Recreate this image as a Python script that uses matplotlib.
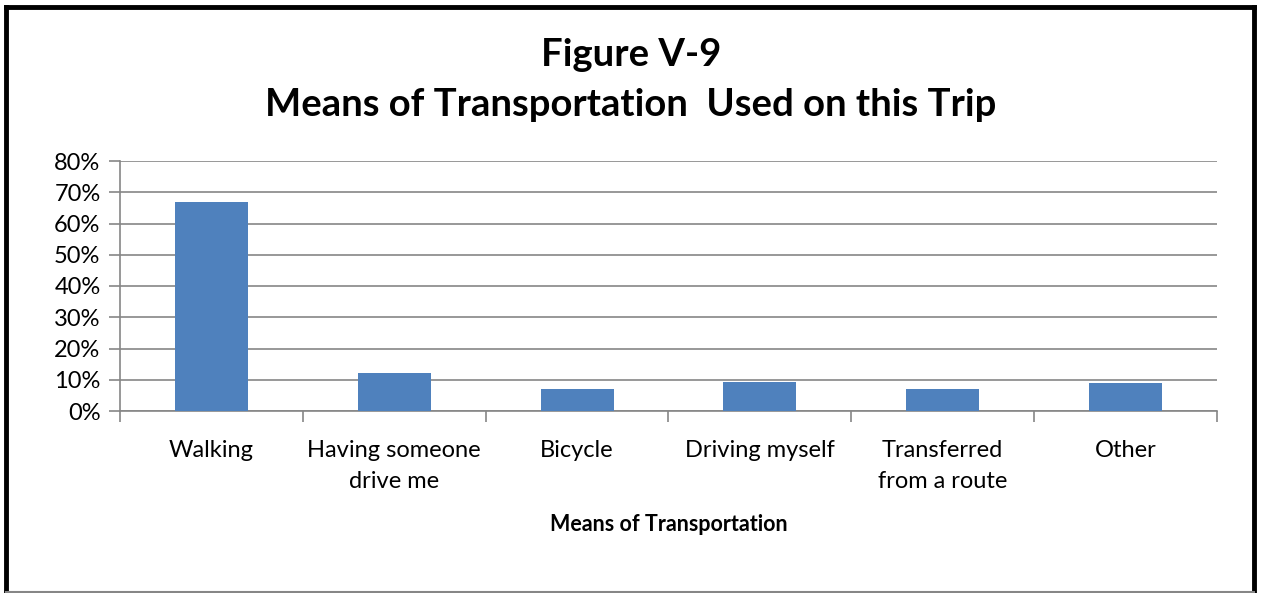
import matplotlib.pyplot as plt
from matplotlib.lines import Line2D
import numpy as np

# data
categories = ["Walking", "Having someone\ndrive me", "Bicycle", "Driving myself",
              "Transferred\nfrom a route", "Other"]
shares = [67.0, 12.3, 7.0, 9.3, 6.9, 8.9]
y_ticks = [0, 10, 20, 30, 40, 50, 60, 70, 80]

plt.rcParams['font.family'] = ['Lato', 'DejaVu Sans']

W, H = 1262, 593
fig = plt.figure(figsize=(W / 100, H / 100), dpi=100)
ax = fig.add_axes([120 / W, 1 - 411 / H, 1097 / W, 250 / H])

grey = '#868686'
x = np.arange(len(categories))
ax.bar(x, shares, width=0.4, color='#4f81bd', zorder=3)

ax.set_xlim(-0.5, len(categories) - 0.5)
ax.set_ylim(0, 80)
ax.set_yticks(y_ticks)
ax.set_yticklabels([f"{v}%" for v in y_ticks], fontsize=17)
ax.yaxis.grid(True, color=grey, linewidth=1.2, zorder=0)

# category labels centred, ticks at the boundaries
ax.set_xticks(x)
ax.set_xticklabels(categories, fontsize=17, linespacing=1.55)
ax.tick_params(axis='x', length=0, pad=21)
ax.set_xticks(np.arange(len(categories) + 1) - 0.5, minor=True)
ax.tick_params(axis='x', which='minor', length=8, color=grey, width=1.2)
ax.tick_params(axis='y', length=8, color=grey, width=1.2, pad=6)

for s in ['top', 'right']:
    ax.spines[s].set_visible(False)
for s in ['left', 'bottom']:
    ax.spines[s].set_color(grey)
    ax.spines[s].set_linewidth(1.2)

ax.set_xlabel("Means of Transportation", fontsize=15.5, fontweight='bold', labelpad=16)

fig.text(0.5, 1 - 55 / H, "Figure V-9", ha='center', va='center',
         fontsize=27.5, fontweight='bold')
fig.text(0.5, 1 - 105 / H, "Means of Transportation  Used on this Trip", ha='center',
         va='center', fontsize=27.5, fontweight='bold')

# frame around the chart
fig.add_artist(Line2D([6 / W, 6 / W], [0, 1 - 7 / H], color='black', linewidth=3.5))
fig.add_artist(Line2D([1254 / W, 1254 / W], [0, 1 - 7 / H], color='black', linewidth=3.5))
fig.add_artist(Line2D([6 / W, 1254 / W], [1 - 7 / H, 1 - 7 / H], color='black', linewidth=3.5))
fig.add_artist(Line2D([6 / W, 1254 / W], [1.5 / H, 1.5 / H], color=grey, linewidth=1.5))

fig.savefig("out.png", dpi=100)
